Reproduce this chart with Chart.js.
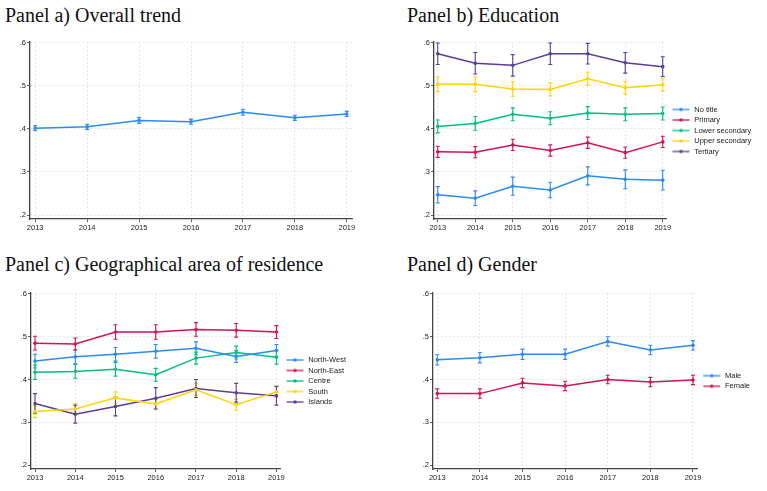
<!DOCTYPE html>
<html>
<head>
<meta charset="utf-8">
<script src="https://cdn.jsdelivr.net/npm/chart.js@4"></script>
<style>
body { margin: 0; background: #fff; width: 767px; height: 491px; position: relative; overflow: hidden; }
.title { position: absolute; font-family: "Liberation Serif", "Times New Roman", serif; font-size: 20px; line-height: 20px; color: #111; white-space: nowrap; }
canvas { position: absolute; }
</style>
</head>
<body>
<div class="title" style="left:5px;top:5px">Panel a) Overall trend</div>
<div class="title" style="left:407px;top:5px">Panel b) Education</div>
<div class="title" style="left:5px;top:254px">Panel c) Geographical area of residence</div>
<div class="title" style="left:407px;top:254px">Panel d) Gender</div>

<canvas id="chartA" width="380" height="212" style="left:0;top:30px"></canvas>
<canvas id="chartB" width="387" height="212" style="left:380px;top:30px"></canvas>
<canvas id="chartC" width="380" height="212" style="left:0;top:280px"></canvas>
<canvas id="chartD" width="387" height="212" style="left:380px;top:280px"></canvas>

<script>
// ********
// * Data *
// ********
const years = [2013, 2014, 2015, 2016, 2017, 2018, 2019];
const yTicks = [0.2, 0.3, 0.4, 0.5, 0.6];

// Panel a
const overall   = [0.402, 0.405, 0.420, 0.417, 0.439, 0.426, 0.435];
const overallCI = [0.006, 0.006, 0.007, 0.006, 0.007, 0.006, 0.006];

// Panel b
const eduLabels = ['No title', 'Primary', 'Lower secondary', 'Upper secondary', 'Tertiary'];
const noTitle     = [0.247, 0.239, 0.267, 0.258, 0.291, 0.283, 0.281];
const noTitleCI   = [0.019, 0.017, 0.021, 0.018, 0.021, 0.022, 0.023];
const primary     = [0.347, 0.346, 0.363, 0.350, 0.368, 0.345, 0.370];
const primaryCI   = [0.013, 0.013, 0.013, 0.013, 0.013, 0.013, 0.013];
const lowerSec    = [0.406, 0.413, 0.434, 0.425, 0.437, 0.434, 0.436];
const lowerSecCI  = [0.015, 0.016, 0.015, 0.015, 0.015, 0.015, 0.015];
const upperSec    = [0.504, 0.504, 0.493, 0.492, 0.517, 0.496, 0.503];
const upperSecCI  = [0.017, 0.017, 0.017, 0.015, 0.015, 0.015, 0.015];
const tertiary    = [0.575, 0.553, 0.548, 0.575, 0.575, 0.554, 0.545];
const tertiaryCI  = [0.025, 0.025, 0.025, 0.025, 0.024, 0.024, 0.023];

// Panel c
const areaLabels = ['North-West', 'North-East', 'Centre', 'South', 'Islands'];
const northWest   = [0.443, 0.453, 0.459, 0.466, 0.473, 0.454, 0.468];
const northWestCI = [0.016, 0.016, 0.016, 0.016, 0.015, 0.014, 0.014];
const northEast   = [0.485, 0.483, 0.511, 0.511, 0.517, 0.515, 0.511];
const northEastCI = [0.016, 0.014, 0.017, 0.017, 0.016, 0.016, 0.015];
const centre      = [0.417, 0.419, 0.424, 0.411, 0.450, 0.463, 0.452];
const centreCI    = [0.017, 0.016, 0.016, 0.015, 0.014, 0.015, 0.016];
const south       = [0.325, 0.331, 0.357, 0.343, 0.376, 0.341, 0.371];
const southCI     = [0.014, 0.013, 0.014, 0.012, 0.014, 0.013, 0.013];
const islands     = [0.344, 0.319, 0.337, 0.356, 0.379, 0.369, 0.362];
const islandsCI   = [0.023, 0.021, 0.022, 0.025, 0.021, 0.022, 0.022];

// Panel d
const genderLabels = ['Male', 'Female'];
const male     = [0.446, 0.451, 0.459, 0.459, 0.489, 0.469, 0.480];
const maleCI   = [0.012, 0.012, 0.012, 0.012, 0.011, 0.011, 0.011];
const female   = [0.367, 0.367, 0.392, 0.385, 0.400, 0.394, 0.399];
const femaleCI = [0.011, 0.011, 0.011, 0.011, 0.010, 0.011, 0.011];

const colors = ['#2a8bf5', '#d41159', '#00bf7f', '#ffd400', '#5e3c99'];

// ***********
// * Helpers *
// ***********
function series(label, values, ci, color) {
    return {
        label: label,
        data: years.map((yr, i) => ({ x: yr, y: values[i] })),
        ci: ci,
        borderColor: color,
        backgroundColor: color,
        borderWidth: 1.5,
        pointRadius: 1.8,
        pointBorderWidth: 0,
        tension: 0
    };
}

// small line + dot legend marker, like the Stata key
function legendMark(color) {
    const c = document.createElement('canvas');
    c.width = 21;
    c.height = 6;
    const g = c.getContext('2d');
    g.strokeStyle = color;
    g.lineWidth = 1.3;
    g.beginPath();
    g.moveTo(3, 3);
    g.lineTo(20, 3);
    g.stroke();
    g.fillStyle = color;
    g.beginPath();
    g.arc(11.5, 3, 1.7, 0, Math.PI * 2);
    g.fill();
    return c;
}

const errorBars = {
    id: 'errorBars',
    beforeDatasetsDraw(chart) {
        const ctx = chart.ctx;
        const yScale = chart.scales.y;
        chart.data.datasets.forEach((ds, i) => {
            const meta = chart.getDatasetMeta(i);
            ctx.save();
            ctx.strokeStyle = ds.borderColor;
            ctx.lineWidth = 1.1;
            meta.data.forEach((pt, j) => {
                const v = ds.data[j].y;
                const top = yScale.getPixelForValue(v + ds.ci[j]);
                const bot = yScale.getPixelForValue(v - ds.ci[j]);
                ctx.beginPath();
                ctx.moveTo(pt.x, top);
                ctx.lineTo(pt.x, bot);
                ctx.moveTo(pt.x - 2, top);
                ctx.lineTo(pt.x + 2, top);
                ctx.moveTo(pt.x - 2, bot);
                ctx.lineTo(pt.x + 2, bot);
                ctx.stroke();
            });
            ctx.restore();
        });
    }
};

const tickFont = { family: '"Liberation Sans", Arial, sans-serif', size: 7.5 };

function makeChart(id, datasets, padding, showLegend) {
    const ctx = document.getElementById(id).getContext('2d');
    return new Chart(ctx, {
        type: 'line',
        data: { datasets: datasets },
        options: {
            responsive: false,
            animation: false,
            layout: { padding: padding },
            plugins: {
                tooltip: { enabled: false },
                legend: {
                    display: showLegend,
                    position: 'right',
                    fullSize: false,
                    labels: {
                        usePointStyle: true,
                        pointStyleWidth: 21,
                        padding: 3,
                        color: '#222',
                        font: tickFont,
                        generateLabels: chart => Chart.defaults.plugins.legend.labels.generateLabels(chart)
                            .map(l => Object.assign(l, { pointStyle: legendMark(chart.data.datasets[l.datasetIndex].borderColor) }))
                    }
                }
            },
            scales: {
                x: {
                    type: 'linear',
                    min: 2012.9,
                    max: 2019.1,
                    afterBuildTicks: s => { s.ticks = years.map(v => ({ value: v })); },
                    afterFit: s => { s.height = 23; },
                    ticks: { color: '#222', font: tickFont, padding: 1, maxRotation: 0, callback: v => String(v) },
                    grid: { color: '#e2e2e2', tickColor: '#333', tickLength: 3, lineWidth: 0.8 },
                    border: { color: '#444', width: 1.3, dash: [2, 2] }
                },
                y: {
                    min: 0.1907,
                    max: 0.6023,
                    afterBuildTicks: s => { s.ticks = yTicks.map(v => ({ value: v })); },
                    afterFit: s => { s.width = 24; },
                    ticks: { color: '#222', font: tickFont, padding: 1, callback: v => '.' + Math.round(v * 10) },
                    grid: { color: '#e2e2e2', tickColor: '#333', tickLength: 3, lineWidth: 0.8 },
                    border: { color: '#444', width: 1.3, dash: [2, 2] }
                }
            }
        },
        plugins: [errorBars]
    });
}

// **********
// * Charts *
// **********
makeChart('chartA', [
    series('Overall', overall, overallCI, colors[0])
], { left: 6, top: 12, right: 28, bottom: 0 }, false);

makeChart('chartB', [
    series(eduLabels[0], noTitle, noTitleCI, colors[0]),
    series(eduLabels[1], primary, primaryCI, colors[1]),
    series(eduLabels[2], lowerSec, lowerSecCI, colors[2]),
    series(eduLabels[3], upperSec, upperSecCI, colors[3]),
    series(eduLabels[4], tertiary, tertiaryCI, colors[4])
], { left: 30, top: 12, right: 15, bottom: 0 }, true);

makeChart('chartC', [
    series(areaLabels[0], northWest, northWestCI, colors[0]),
    series(areaLabels[1], northEast, northEastCI, colors[1]),
    series(areaLabels[2], centre, centreCI, colors[2]),
    series(areaLabels[3], south, southCI, colors[3]),
    series(areaLabels[4], islands, islandsCI, colors[4])
], { left: 7, top: 13, right: 24, bottom: 0 }, true);

makeChart('chartD', [
    series(genderLabels[0], male, maleCI, colors[0]),
    series(genderLabels[1], female, femaleCI, colors[1])
], { left: 29, top: 13, right: 7, bottom: 0 }, true);
</script>
</body>
</html>
